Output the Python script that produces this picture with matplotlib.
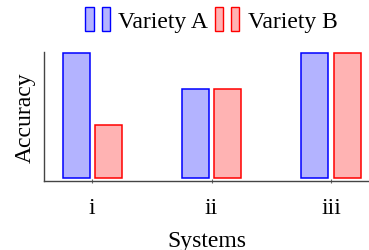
import matplotlib
matplotlib.use('Agg')
import numpy as np
import matplotlib.pyplot as plt
from matplotlib.patches import Rectangle
from matplotlib.legend_handler import HandlerBase

# Data
systems = ['i', 'ii', 'iii']
variety_a = [0.7, 0.5, 0.7]
variety_b = [0.3, 0.5, 0.7]

blue_edge, blue_face = '#0000ff', '#b3b3ff'
red_edge, red_face = '#ff0000', '#ffb3b3'

plt.rcParams['font.family'] = ['Liberation Serif', 'DejaVu Serif']
fs = 17


class TwoBarHandler(HandlerBase):
    # pgfplots-style legend icon: two small bars side by side
    def create_artists(self, legend, orig_handle, xdescent, ydescent,
                       width, height, fontsize, trans):
        fc = orig_handle.get_facecolor()
        ec = orig_handle.get_edgecolor()
        w = width * 0.34
        arts = []
        for x0 in (-xdescent, -xdescent + width - w):
            r = Rectangle((x0, -ydescent), w, height, facecolor=fc,
                          edgecolor=ec, linewidth=1.0, transform=trans)
            arts.append(r)
        return arts


fig = plt.figure(figsize=(3.69, 2.51), dpi=100)
ax = fig.add_axes([0.1192, 0.276, 0.8808, 0.514])

x = np.arange(len(systems))
off = 0.134
bw = 0.226
ax.bar(x - off, variety_a, bw, facecolor=blue_face, edgecolor=blue_edge,
       linewidth=1.1, label='Variety A')
ax.bar(x + off, variety_b, bw, facecolor=red_face, edgecolor=red_edge,
       linewidth=1.1, label='Variety B')

ax.set_xlim(-0.402, 2.318)
ax.set_ylim(-0.0134, 0.709)

ax.set_xticks(x)
ax.set_xticklabels(systems, fontsize=fs)
ax.set_yticks([])
ax.tick_params(axis='x', direction='inout', length=3, width=0.8, color='#666666', pad=10)

ax.set_xlabel('Systems', fontsize=fs, labelpad=9)
ax.set_ylabel('Accuracy', fontsize=fs, labelpad=6)

for s in ['top', 'right']:
    ax.spines[s].set_visible(False)
for s in ['left', 'bottom']:
    ax.spines[s].set_color('#444444')
    ax.spines[s].set_linewidth(1.0)

h_a = Rectangle((0, 0), 1, 1, facecolor=blue_face, edgecolor=blue_edge)
h_b = Rectangle((0, 0), 1, 1, facecolor=red_face, edgecolor=red_edge)
fig.legend([h_a, h_b], ['Variety A', 'Variety B'], loc='upper center',
           bbox_to_anchor=(0.573, 1.035), ncol=2, frameon=False, fontsize=fs,
           handler_map={Rectangle: TwoBarHandler()},
           handlelength=1.05, handleheight=1.2, handletextpad=0.35,
           columnspacing=0.27, borderpad=0.2)

fig.savefig('out.png', dpi=100)
